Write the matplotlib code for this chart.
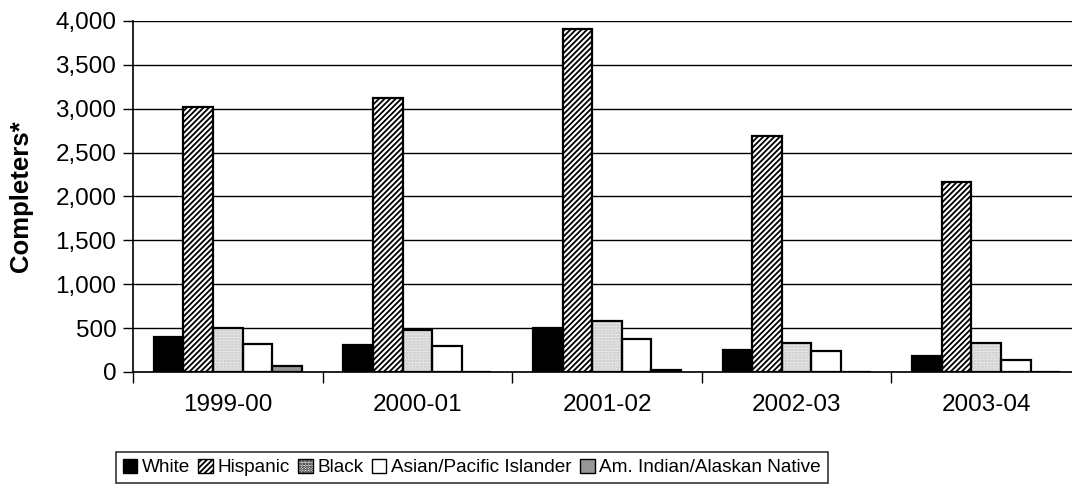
import matplotlib
matplotlib.use("Agg")
import matplotlib.pyplot as plt
from matplotlib.patches import Patch
import numpy as np

years = ["1999-00", "2000-01", "2001-02", "2002-03", "2003-04"]
groups = ["White", "Hispanic", "Black", "Asian/Pacific Islander", "Am. Indian/Alaskan Native"]
white = [395, 310, 505, 250, 180]
hispanic = [3015, 3120, 3910, 2685, 2170]
black = [500, 476, 578, 328, 328]
asian = [320, 300, 380, 242, 133]
amindian = [65, 0, 20, 0, 0]

plt.rcParams["font.family"] = ["Liberation Sans", "DejaVu Sans"]
plt.rcParams["hatch.linewidth"] = 1.3

series = [white, hispanic, black, asian, amindian]
faces = ["black", "white", "#f0f0f0", "white", "#969696"]
hatches = [None, "//////", "......", None, None]
hatch_cols = ["black", "black", "#c0c0c0", "black", "black"]

fig = plt.figure(figsize=(10.72, 4.92), dpi=100)
ax = fig.add_axes([133 / 1072, 120 / 492, 948 / 1072, 351 / 492])

x = np.arange(len(years))
w = 0.156
for i, vals in enumerate(series):
    pos = x + (i - 2) * w
    # fill + pattern, then the black outline on top
    ax.bar(pos, vals, w, color=faces[i], edgecolor=hatch_cols[i],
           hatch=hatches[i], linewidth=0, zorder=3)
    ax.bar(pos, vals, w, fill=False, edgecolor="black", linewidth=1.6, zorder=4)

ax.set_xlim(-0.5, len(years) - 0.5)
ax.set_ylim(0, 4000)
ax.set_yticks(np.arange(0, 4001, 500))
ax.set_yticklabels([f"{v:,}" for v in range(0, 4001, 500)], fontsize=17.5)
ax.yaxis.grid(True, color="black", linewidth=1.0, zorder=0)
ax.tick_params(axis="y", direction="out", length=7, width=1, pad=5)

ax.set_xticks(np.arange(len(years) + 1) - 0.5)
ax.set_xticklabels([])
ax.set_xticks(x, minor=True)
ax.set_xticklabels(years, minor=True, fontsize=17.5)
ax.tick_params(axis="x", which="major", direction="out", length=8, width=1)
ax.tick_params(axis="x", which="minor", length=0, pad=16)

for s in ["top", "right"]:
    ax.spines[s].set_visible(False)
ax.spines["left"].set_linewidth(1.2)
ax.spines["bottom"].set_linewidth(1.2)

ax.set_ylabel("Completers*", fontsize=18.5, fontweight="bold", labelpad=16)

handles = [Patch(facecolor=faces[i], edgecolor="black", hatch=hatches[i], linewidth=1)
           for i in range(len(groups))]
leg = fig.legend(handles, groups, loc="upper left", bbox_to_anchor=(116 / 1072, 1 - 452 / 492),
                 ncol=5, fontsize=13.7, frameon=True, fancybox=False, edgecolor="black",
                 handlelength=0.75, handleheight=0.75, handletextpad=0.25, columnspacing=0.45,
                 borderpad=0.35, borderaxespad=0)
leg.get_frame().set_linewidth(1.2)

fig.savefig("out.png", dpi=100)
